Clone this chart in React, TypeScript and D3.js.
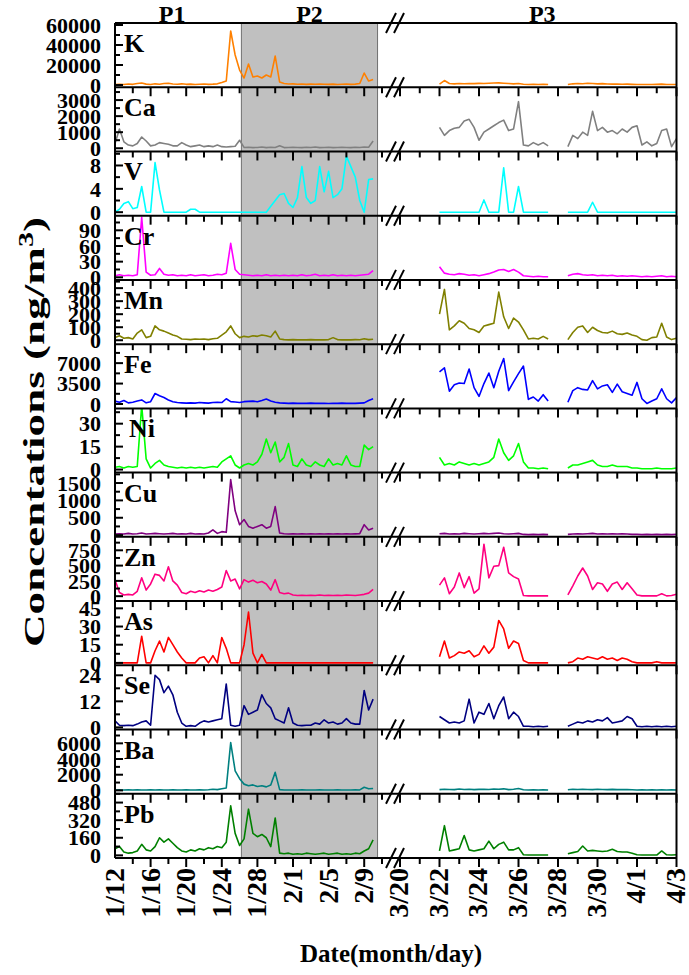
import React from 'react';
import * as d3 from 'd3';

// ---------------- DATA ----------------
const ELEMENTS = ['K', 'Ca', 'V', 'Cr', 'Mn', 'Fe', 'Ni', 'Cu', 'Zn', 'As', 'Se', 'Ba', 'Pb'];
const COLORS = ['#ff8000', '#808080', '#00ffff', '#ff00ff', '#808000', '#0000ff', '#00ff00',
  '#800080', '#ff0080', '#ff0000', '#000080', '#008080', '#008000'];

const Y_DOMAINS: [number, number][] = [
  [-2200, 62000], [-200, 3800], [-0.6, 10.4], [-5, 118], [-30, 463], [-750, 10250],
  [-2, 40], [-50, 1800], [-80, 970], [-2, 51], [-1, 28.6], [-430, 7760], [-24, 560]];
const Y_TICKS: number[][] = [
  [0, 20000, 40000, 60000], [0, 1000, 2000, 3000], [0, 4, 8], [0, 30, 60, 90],
  [0, 100, 200, 300, 400], [0, 3500, 7000], [0, 15, 30], [0, 500, 1000, 1500],
  [0, 250, 500, 750], [0, 15, 30, 45], [0, 12, 24], [0, 2000, 4000, 6000], [0, 160, 320, 480]];

// period 1+2: days after Jan 12 00:00, sampled every 12 h from day 0
const P12_START = 0;
const P12_STEP = 0.5;
// period 3: day of March (Apr 1 = 32), sampled every 6 h from Mar 22
const P3_START = 22;
const P3_STEP = 0.25;
// P2 (shaded) window in days after Jan 12
const P2_WINDOW = [14.2, 29.5];

const SEG1_TICK_DAYS = [0, 4, 8, 12, 16, 20, 24, 28];
const SEG1_TICK_LABELS = ['1/12', '1/16', '1/20', '1/24', '1/28', '2/1', '2/5', '2/9'];
const SEG2_TICK_DAYS = [20, 22, 24, 26, 28, 30, 32, 34];
const SEG2_TICK_LABELS = ['3/20', '3/22', '3/24', '3/26', '3/28', '3/30', '4/1', '4/3'];

const _ = null;

const K_P12 = [500, 800, 600, 1000, 700, 1500, 2000, 900, 600, 1200,
  800, 1500, 1800, 1000, 800, 1200, 700, 900, 600, 800,
  1000, 700, 900, 1200, 2500, 4000, 54000, 30000, 15000, 7000,
  21000, 8000, 9000, 7000, 10000, 8000, 29000, 3000, 1500, 1000,
  1200, 800, 1000, 700, 900, 800, 1000, 800, 700, 900,
  600, 800, 1000, 700, 900, 1500, 12000, 4000, 5500];
const K_P3 = [1000, 4500, 1500, 1200, 1500, 1300, 1600, 1400, 1700, 1500,
  1800, 2000, 2200, 1800, 1500, 1200, 1600, 800, 600, 700,
  500, 800, 500, _, _, _, 600, 1200, 1500, 1300,
  1800, 1500, 1200, 1400, 1100, 900, 1000, 800, 900, 700,
  600, 500, 600, 500, 700, 900, 500, 600, 500];

const CA_P12 = [300, 1200, 400, 200, 150, 300, 700, 450, 150, 200,
  350, 300, 250, 150, 150, 350, 200, 100, 150, 200,
  100, 150, 100, 200, 100, 80, 100, 120, 500, 50,
  60, 40, 50, 80, 40, 60, 50, 150, 40, 50,
  60, 50, 40, 60, 50, 80, 40, 50, 60, 40,
  50, 60, 50, 40, 60, 50, 80, 60, 450];
const CA_P3 = [1300, 800, 1100, 1250, 1300, 1700, 1800, 1300, 500, 1000,
  1200, 1400, 1600, 1750, 1100, 1200, 2900, 200, 150, 350,
  200, 350, 150, _, _, _, 100, 800, 600, 1000,
  800, 2300, 1100, 1300, 1000, 1100, 900, 1200, 1000, 1300,
  1400, 200, 400, 150, 300, 1100, 1200, 100, 600];

const V_P12 = [0, 0.5, 1.5, 1.8, 0.6, 0.8, 4.4, 0, 0, 8.5,
  3.8, 0, 0, 0, 0, 0, 0, 0.5, 0.5, 0,
  0, 0, 0, 0, 0, 0, 0, 0, 0, 0,
  0, 0, 0, 0, 0, 1.0, 2.0, 3.0, 3.2, 1.5,
  0.8, 2.5, 7.8, 2.5, 1.5, 2.0, 7.8, 3.5, 7.0, 2.5,
  3.0, 4.0, 9.6, 7.8, 6.0, 2.0, 0, 5.6, 5.7];
const V_P3 = [0, 0, 0, 0, 0, 0, 0, 0, 0, 2.1,
  0, 0, 0, 7.6, 0, 0, 4.4, 0, 0, 0,
  0, 0, 0, _, _, _, 0, 0, 0, 0,
  0, 1.7, 0, 0, 0, 0, 0, 0, 0, 0,
  0, 0, 0, 0, 0, 0, 0, 0, 0];

const CR_P12 = [3, 5, 3, 4, 3, 5, 115, 10, 4, 5,
  17, 6, 4, 5, 3, 4, 3, 5, 3, 4,
  5, 3, 4, 6, 5, 8, 65, 15, 6, 5,
  4, 3, 4, 3, 5, 3, 4, 3, 4, 3,
  4, 3, 5, 3, 4, 6, 3, 4, 3, 5,
  3, 4, 3, 4, 3, 4, 5, 6, 13];
const CR_P3 = [20, 8, 6, 5, 7, 6, 4, 5, 3, 5,
  7, 10, 14, 15, 11, 15, 10, 3, 2, 1,
  2, 1, 1, _, _, _, 3, 6, 7, 5,
  4, 5, 3, 4, 3, 4, 2, 3, 2, 3,
  2, 1, 2, 1, 2, 3, 1, 2, 1];

const MN_P12 = [20, 35, 15, 20, 10, 55, 80, 20, 30, 110,
  80, 70, 55, 40, 30, 10, 8, 5, 10, 8,
  10, 5, 12, 15, 40, 65, 110, 50, 20, 30,
  25, 35, 30, 40, 35, 25, 70, 10, 5, 3,
  5, 3, 4, 3, 5, 3, 4, 3, 5, 20,
  5, 3, 4, 3, 5, 4, 12, 5, 8];
const MN_P3 = [200, 390, 80, 110, 150, 130, 90, 80, 60, 110,
  120, 130, 370, 180, 90, 170, 140, 80, 10, 15,
  10, 30, 10, _, _, _, 5, 60, 100, 110,
  60, 100, 75, 60, 55, 70, 50, 45, 55, 40,
  30, 5, 0, 20, 25, 130, 25, 5, 15];

const FE_P12 = [500, 300, 600, 200, 300, 500, 700, 200, 400, 1800,
  1400, 1100, 700, 400, 250, 200, 150, 200, 150, 250,
  200, 150, 250, 300, 250, 900, 400, 350, 250, 400,
  450, 500, 400, 600, 850, 500, 300, 200, 150, 100,
  150, 100, 120, 100, 150, 100, 120, 100, 80, 120,
  100, 150, 100, 120, 100, 150, 200, 600, 900];
const FE_P3 = [5500, 6200, 2200, 3300, 3600, 3500, 6000, 2800, 1300, 3500,
  5300, 2800, 5600, 7800, 2300, 3800, 5200, 6500, 800, 1200,
  500, 1600, 500, _, _, _, 300, 2300, 2800, 2500,
  2400, 4000, 2600, 3100, 3300, 2000, 3400, 2100, 1800, 1500,
  3700, 900, 100, 500, 900, 2600, 900, 200, 1100];

const NI_P12 = [1.5, 2, 1, 2, 1.5, 2, 42, 7, 1, 4,
  6, 3, 2, 1.5, 1, 1.5, 1, 1.5, 1, 1.5,
  1, 1.5, 2, 1.5, 5, 7, 9, 3, 1, 3,
  4, 3, 5, 10, 20, 11, 18, 5, 8, 17,
  3, 2, 7, 3, 2, 5, 3, 2, 7, 3,
  4, 3, 9, 3, 2, 2, 16, 13, 15];
const NI_P3 = [8, 3, 4, 3, 5, 4, 3, 4, 3, 4,
  5, 8, 20, 11, 6, 9, 17, 5, 1, 1,
  0.5, 1, 0.5, _, _, _, 1, 3, 3, 4,
  5, 6, 3, 2, 2, 3, 2, 2, 2, 1,
  1, 0.5, 0.5, 0.5, 1, 0.5, 0.5, 0.5, 1];

const CU_P12 = [30, 40, 30, 50, 30, 40, 60, 30, 40, 50,
  40, 30, 40, 50, 30, 40, 30, 50, 30, 40,
  30, 60, 150, 50, 100, 80, 1600, 700, 300, 450,
  250, 200, 250, 300, 200, 250, 820, 60, 40, 30,
  40, 30, 35, 30, 40, 30, 35, 30, 40, 30,
  35, 30, 40, 30, 35, 40, 300, 150, 200];
const CU_P3 = [40, 50, 30, 40, 30, 50, 40, 30, 40, 50,
  40, 50, 60, 40, 30, 40, 50, 20, 15, 20,
  15, 20, 15, _, _, _, 20, 30, 40, 30,
  40, 50, 30, 40, 30, 40, 30, 40, 30, 20,
  20, 15, 20, 15, 20, 15, 20, 15, 20];

const ZN_P12 = [270, 60, 20, 30, 20, 80, 300, 100, 200, 360,
  340, 250, 480, 250, 180, 60, 40, 80, 60, 90,
  70, 100, 80, 110, 150, 420, 250, 280, 120, 270,
  230, 260, 220, 240, 200, 100, 270, 60, 40, 50,
  20, 10, 15, 10, 15, 10, 20, 10, 15, 10,
  15, 10, 20, 15, 10, 20, 30, 50, 110];
const ZN_P3 = [180, 300, 40, 150, 380, 140, 320, 50, 120, 850,
  300, 490, 500, 800, 380, 320, 280, 10, 5, 5,
  5, 5, 5, _, _, _, 20, 170, 330, 460,
  330, 110, 220, 200, 80, 200, 230, 110, 220, 120,
  20, 5, 5, 5, 5, 40, 5, 10, 30];

const AS_P12 = [0, 0, 0, 0, 0, 0, 22, 0, 0, 10,
  18, 9, 21, 15, 9, 4, 0, 0, 0, 4,
  5, 0, 6, 0, 21, 12, 0, 0, 0, 15,
  42, 8, 0, 7, 0, 0, 0, 0, 0, 0,
  0, 0, 0, 0, 0, 0, 0, 0, 0, 0,
  0, 0, 0, 0, 0, 0, 0, 0, 0];
const AS_P3 = [5, 18, 4, 6, 9, 8, 10, 5, 7, 14,
  8, 13, 35, 28, 12, 18, 16, 2, 0, 0,
  0, 0, 0, _, _, _, 0, 1, 4, 3,
  5, 4, 3, 5, 3, 4, 2, 4, 3, 1,
  0, 0, 0, 0, 1, 0, 0, 0, 0];

const SE_P12 = [3, 1, 0.8, 1, 0.8, 1.5, 2.5, 3, 1, 24,
  22, 16, 19, 15, 7, 2, 0.5, 0.8, 0.5, 2,
  3, 2.5, 3, 3.5, 4, 20, 1, 0.5, 1, 10,
  6, 7, 8, 15, 11, 9, 4, 3, 2, 9,
  2, 1, 0.8, 1, 1, 2, 1.5, 3.5, 2, 2.5,
  1.5, 2, 4, 2, 1.5, 1.5, 17, 8, 13];
const SE_P3 = [5, 3.5, 2, 2.5, 2, 3, 13, 2, 7, 6,
  11, 4, 10, 14, 4, 7, 5, 0.5, 0.5, 0.3,
  0.5, 0.3, 0.5, _, _, _, 0.5, 1.5, 2.5, 2,
  3, 2.5, 3.5, 3, 4.5, 2, 2.5, 3, 5, 4,
  0.5, 0.3, 0.5, 0.3, 0.5, 0.3, 0.5, 0.3, 0.5];

const BA_P12 = [50, 80, 60, 70, 50, 80, 60, 50, 70, 60,
  80, 50, 60, 70, 50, 60, 80, 50, 60, 70,
  50, 80, 150, 100, 200, 300, 6100, 2500, 1500, 800,
  600, 700, 500, 600, 450, 700, 2300, 100, 60, 50,
  60, 50, 70, 50, 60, 50, 70, 50, 60, 50,
  70, 50, 60, 50, 70, 60, 400, 200, 250];
const BA_P3 = [100, 150, 120, 100, 180, 120, 150, 100, 130, 150,
  120, 180, 150, 200, 100, 150, 250, 80, 60, 80,
  60, 80, 60, _, _, _, 80, 150, 120, 150,
  120, 100, 150, 120, 100, 130, 100, 120, 100, 80,
  60, 80, 60, 80, 60, 80, 60, 80, 60];

const PB_P12 = [60, 80, 30, 20, 25, 40, 100, 50, 40, 80,
  160, 120, 150, 110, 70, 40, 30, 50, 40, 60,
  50, 70, 60, 80, 70, 120, 450, 200, 90, 150,
  420, 200, 170, 190, 160, 80, 340, 20, 15, 20,
  10, 15, 10, 20, 15, 10, 15, 20, 10, 15,
  20, 10, 15, 10, 20, 15, 40, 60, 140];
const PB_P3 = [40, 270, 40, 50, 60, 180, 50, 40, 50, 60,
  130, 60, 100, 120, 50, 50, 70, 5, 3, 3,
  3, 3, 3, _, _, _, 15, 25, 35, 85,
  40, 45, 40, 35, 40, 55, 35, 30, 30, 20,
  5, 3, 3, 3, 3, 40, 5, 3, 5];

const SERIES_P12 = [K_P12, CA_P12, V_P12, CR_P12, MN_P12, FE_P12, NI_P12, CU_P12, ZN_P12, AS_P12, SE_P12, BA_P12, PB_P12];
const SERIES_P3 = [K_P3, CA_P3, V_P3, CR_P3, MN_P3, FE_P3, NI_P3, CU_P3, ZN_P3, AS_P3, SE_P3, BA_P3, PB_P3];

// ---------------- LAYOUT ----------------
const W = 689, H = 975;
const LEFT = 115, RIGHT = 676.5, TOP = 23, BOTTOM = 858;
const NP = ELEMENTS.length;
const PH = (BOTTOM - TOP) / NP;
const SEG1_RANGE: [number, number] = [115, 382];
const SEG2_RANGE: [number, number] = [400, 676.5];
const FONT = "'Liberation Serif', 'Times New Roman', serif";

const x1 = d3.scaleLinear().domain([0, 30]).range(SEG1_RANGE);
const x2 = d3.scaleLinear().domain([20, 34]).range(SEG2_RANGE);

type Pt = [number, number | null];

export default function App() {
  const panels = ELEMENTS.map((el, i) => {
    const top = TOP + i * PH;
    const bot = top + PH;
    const y = d3.scaleLinear().domain(Y_DOMAINS[i]).range([bot, top]);
    const line1 = d3.line<Pt>().defined(d => d[1] != null).x(d => x1(d[0])).y(d => y(d[1] as number));
    const line2 = d3.line<Pt>().defined(d => d[1] != null).x(d => x2(d[0])).y(d => y(d[1] as number));
    const pts1: Pt[] = SERIES_P12[i].map((v, k) => [P12_START + k * P12_STEP, v]);
    const pts2: Pt[] = SERIES_P3[i].map((v, k) => [P3_START + k * P3_STEP, v]);
    const ticks = Y_TICKS[i];
    const step = ticks[1] - ticks[0];
    const minor: number[] = [];
    for (let t = ticks[0] + step / 2; t <= y.domain()[1]; t += step) minor.push(t);
    const majorAll: number[] = [];
    for (let t = ticks[0]; t <= y.domain()[1]; t += step) majorAll.push(t);
    return { el, i, top, bot, y, d1: line1(pts1) || '', d2: line2(pts2) || '', ticks, minor, majorAll };
  });

  const boundaries = d3.range(NP + 1).map(i => TOP + i * PH);
  const seg1Ticks = d3.range(0, 31, 2);
  const seg2Ticks = d3.range(20, 35, 1);

  return (
    <svg width={W} height={H} style={{ position: 'absolute', left: 0, top: 0, background: '#fff' }}
      fontFamily={FONT} fontWeight="bold">
      <defs>
        {panels.map(p => (
          <clipPath id={`clip${p.i}`} key={p.i}>
            <rect x={LEFT} y={p.top} width={RIGHT - LEFT} height={PH} />
          </clipPath>
        ))}
      </defs>
      <rect x={0} y={0} width={W} height={H} fill="#fff" />
      {/* P2 shading */}
      <rect x={x1(P2_WINDOW[0])} y={TOP} width={x1(P2_WINDOW[1]) - x1(P2_WINDOW[0])} height={BOTTOM - TOP}
        fill="#c0c0c0" stroke="#707070" strokeWidth={1} />

      {/* series */}
      {panels.map(p => (
        <g key={p.el} clipPath={`url(#clip${p.i})`} fill="none" stroke={COLORS[p.i]} strokeWidth={1.6} strokeLinejoin="round">
          <path d={p.d1} />
          <path d={p.d2} />
        </g>
      ))}

      {/* frame */}
      <line x1={LEFT} x2={LEFT} y1={TOP} y2={BOTTOM} stroke="#000" strokeWidth={2} />
      <line x1={RIGHT} x2={RIGHT} y1={TOP} y2={BOTTOM} stroke="#000" strokeWidth={2} />
      {boundaries.map((b, j) => (
        <line key={j} x1={LEFT} x2={RIGHT} y1={b} y2={b} stroke="#000" strokeWidth={2} />
      ))}

      {/* bottom ticks of each panel (pointing down) */}
      {boundaries.slice(1).map((b, j) => (
        <g key={j} stroke="#000" strokeWidth={2}>
          {seg1Ticks.filter(t => t > 0).map(t => (
            <line key={'a' + t} x1={x1(t)} x2={x1(t)} y1={b} y2={b + (t % 4 === 0 ? 9 : 6)} />
          ))}
          {seg2Ticks.map(t => (
            <line key={'b' + t} x1={x2(t)} x2={x2(t)} y1={b} y2={b + (t % 2 === 0 ? 9 : 6)} />
          ))}
        </g>
      ))}

      {/* y ticks and labels */}
      {panels.map(p => (
        <g key={'y' + p.el}>
          {p.majorAll.map(t => (
            <line key={'M' + t} x1={LEFT} x2={LEFT + 8} y1={p.y(t)} y2={p.y(t)} stroke="#000" strokeWidth={2} />
          ))}
          {p.minor.map(t => (
            <line key={'m' + t} x1={LEFT} x2={LEFT + 5} y1={p.y(t)} y2={p.y(t)} stroke="#000" strokeWidth={2} />
          ))}
          {p.ticks.map(t => (
            <text key={'t' + t} x={101} y={p.y(t)} dy="0.35em" textAnchor="end" fontSize={22} fill="#000">{t}</text>
          ))}
          <text x={p.el === 'Ni' ? 129 : 124} y={p.top + 29} fontSize={26} fill="#000">{p.el}</text>
        </g>
      ))}

      {/* break marks */}
      {boundaries.map((b, j) => (
        <g key={'br' + j} stroke="#000" strokeWidth={2}>
          <line x1={386} y1={b + 10} x2={396} y2={b - 10} />
          <line x1={394} y1={b + 10} x2={404} y2={b - 10} />
        </g>
      ))}

      {/* x tick labels */}
      {SEG1_TICK_DAYS.map((t, k) => (
        <text key={'xl1' + k} transform={`translate(${x1(t) + 9},868) rotate(-90)`} textAnchor="end" fontSize={28} fill="#000">
          {SEG1_TICK_LABELS[k]}
        </text>
      ))}
      {SEG2_TICK_DAYS.map((t, k) => (
        <text key={'xl2' + k} transform={`translate(${x2(t) + 8},868) rotate(-90)`} textAnchor="end" fontSize={28} fill="#000">
          {SEG2_TICK_LABELS[k]}
        </text>
      ))}

      {/* period labels */}
      <text x={(LEFT + x1(P2_WINDOW[0])) / 2 - 6} y={22} textAnchor="middle" fontSize={24} fill="#000">P1</text>
      <text x={(x1(P2_WINDOW[0]) + x1(P2_WINDOW[1])) / 2} y={22} textAnchor="middle" fontSize={24} fill="#000">P2</text>
      <text x={(SEG2_RANGE[0] + RIGHT) / 2 + 4} y={22} textAnchor="middle" fontSize={24} fill="#000">P3</text>

      {/* axis titles */}
      <text x={391} y={962} textAnchor="middle" fontSize={25} fill="#000">Date(month/day)</text>
      <text transform="translate(44,432) rotate(-90)" textAnchor="middle" fontSize={30} fill="#000"
        textLength={430} lengthAdjust="spacingAndGlyphs">
        Concentations (ng/m<tspan dy={-11} fontSize={20}>3</tspan><tspan dy={11}>)</tspan>
      </text>
    </svg>
  );
}
